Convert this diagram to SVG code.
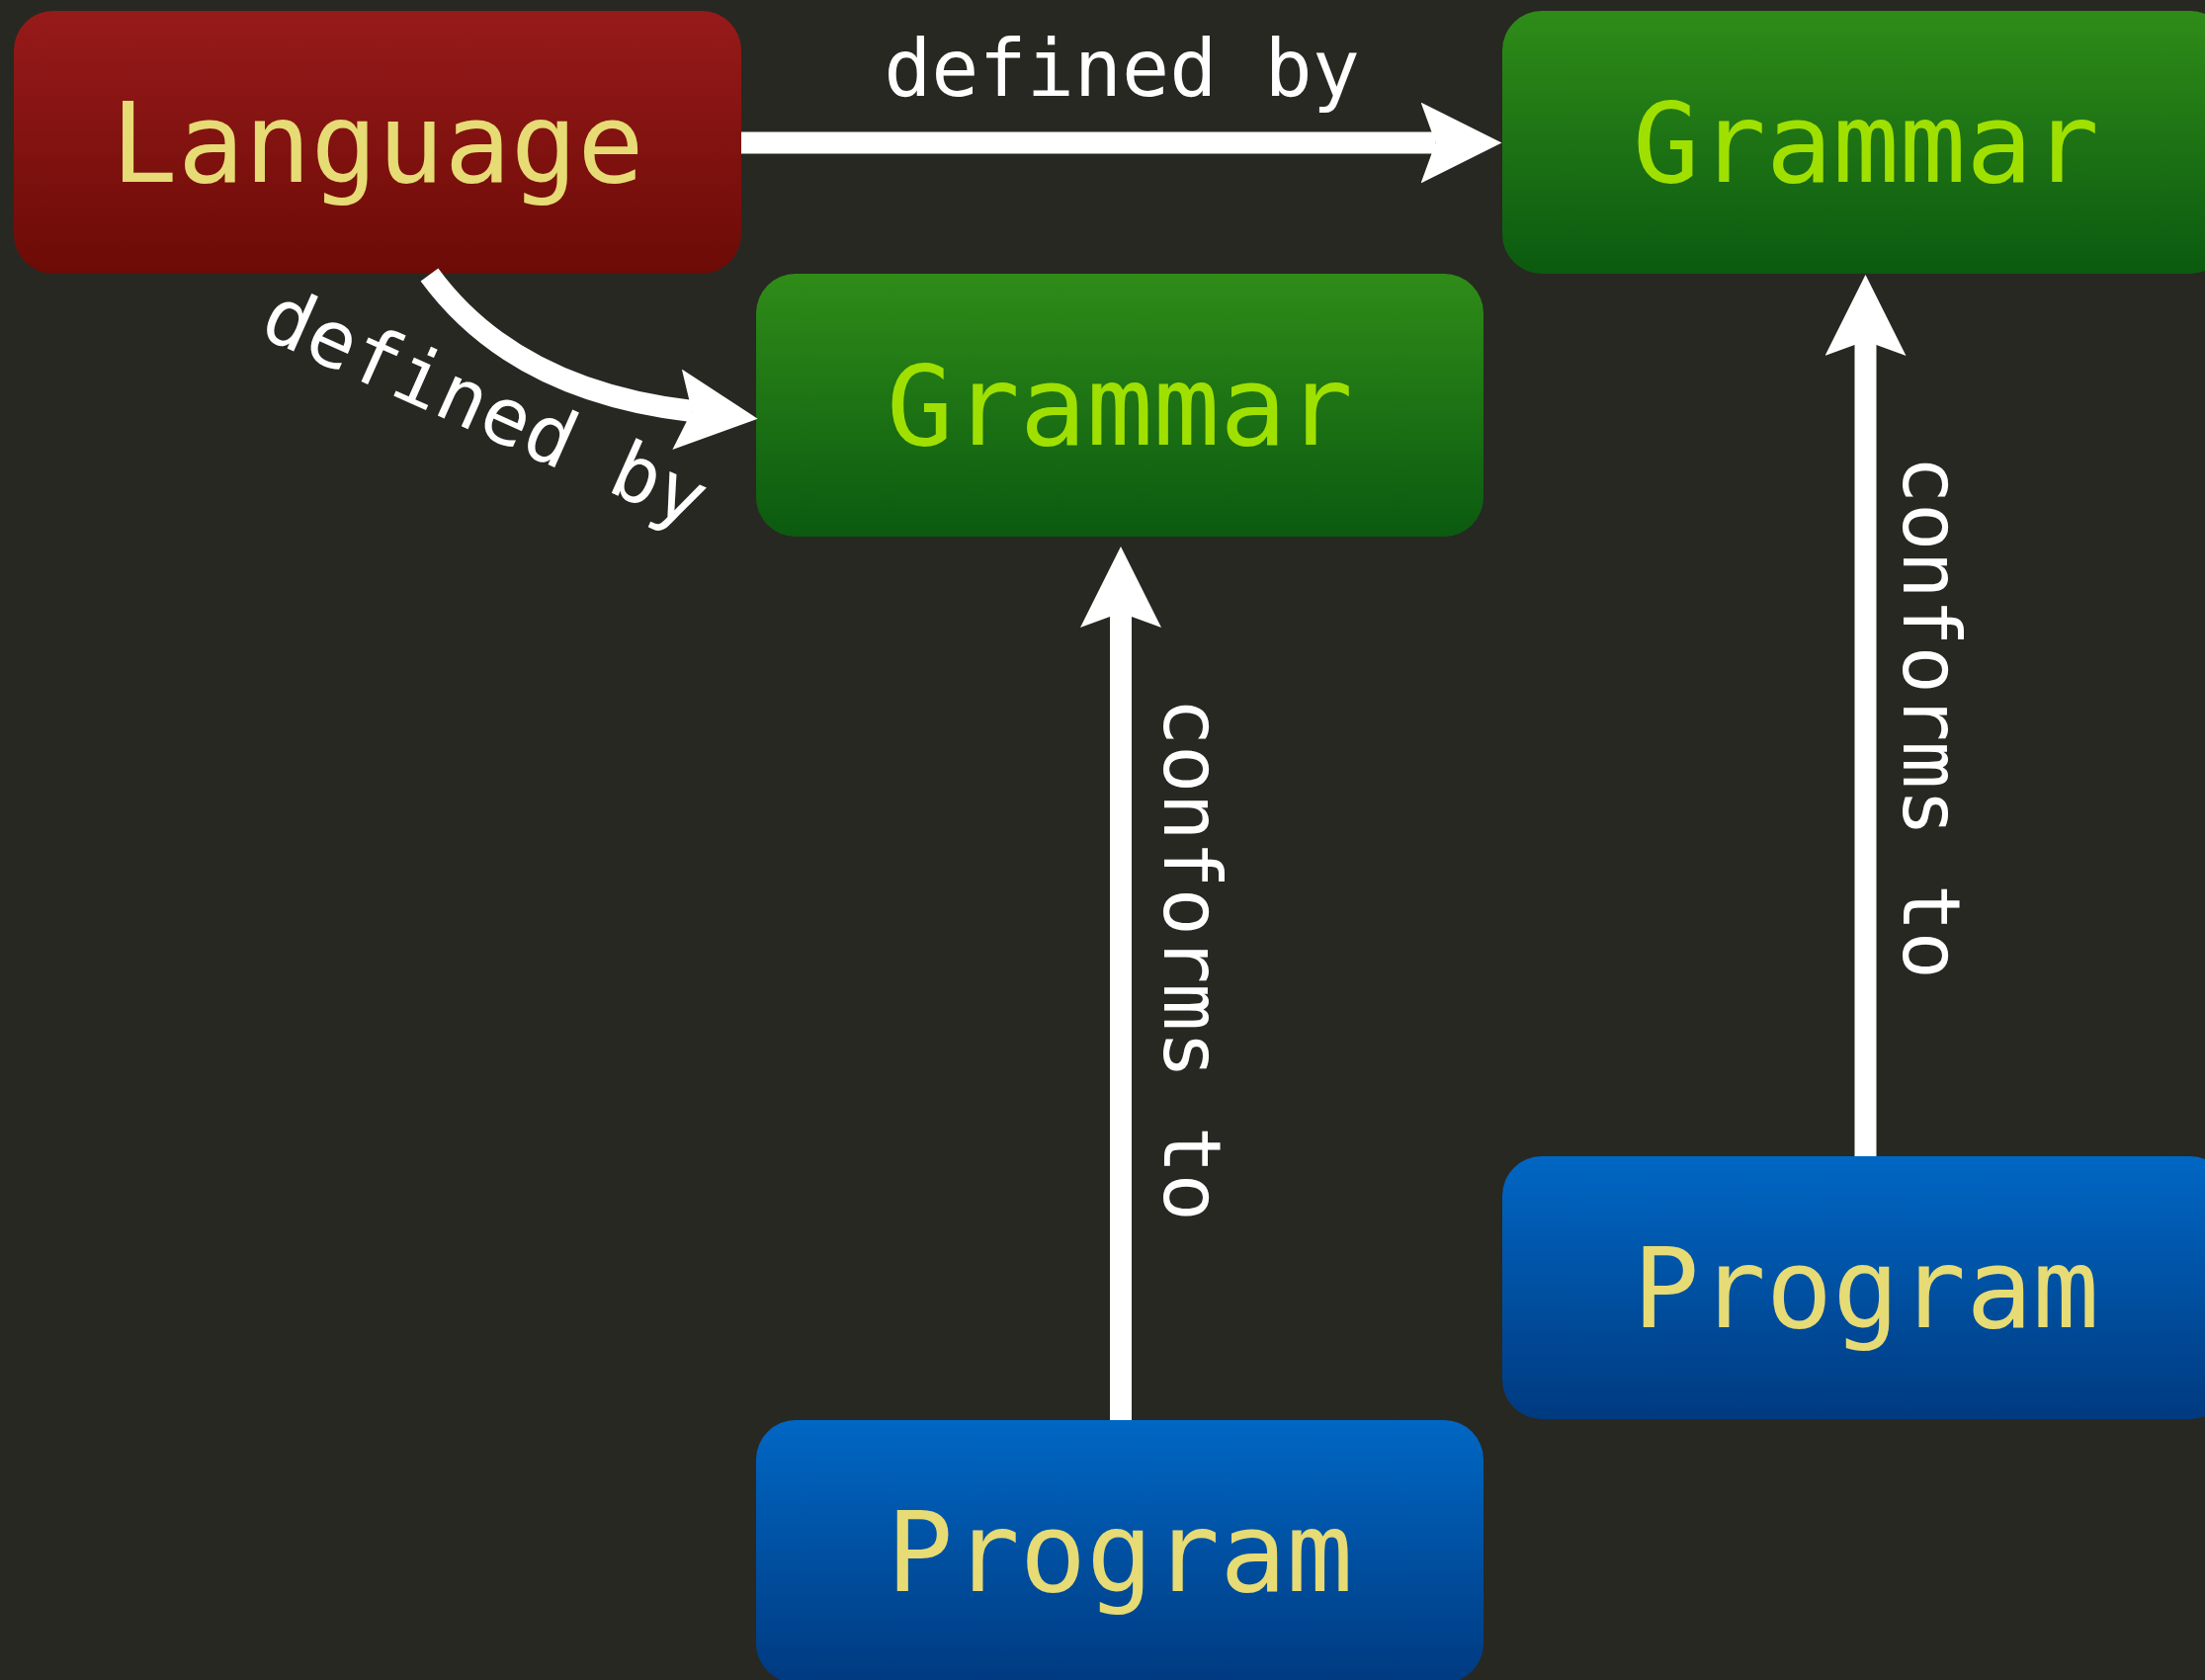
<svg xmlns="http://www.w3.org/2000/svg" width="2231" height="1700" viewBox="0 0 2231 1700">
  <defs>
    <linearGradient id="gradLanguage" x1="0" y1="0" x2="0" y2="1">
      <stop offset="0" stop-color="#971a1a"/>
      <stop offset="1" stop-color="#6c0b06"/>
    </linearGradient>
    <linearGradient id="gradGrammar" x1="0" y1="0" x2="0" y2="1">
      <stop offset="0" stop-color="#2f8c18"/>
      <stop offset="1" stop-color="#0b5a10"/>
    </linearGradient>
    <linearGradient id="gradProgram" x1="0" y1="0" x2="0" y2="1">
      <stop offset="0" stop-color="#0067c4"/>
      <stop offset="1" stop-color="#003a80"/>
    </linearGradient>
    <marker id="arrow" markerUnits="userSpaceOnUse" viewBox="0 0 82 82" refX="15" refY="41" markerWidth="82" markerHeight="82" orient="auto">
      <path d="M82,41 L0,0 L15,41 L0,82 Z" fill="#ffffff"/>
    </marker>
    <style>
      .box { stroke: none; }
      .node-text { font-family: "DejaVu Sans Mono", "Liberation Mono", monospace; font-size: 112px; text-anchor: middle; }
      .yellow { fill: #e6db74; }
      .green { fill: #a0e000; }
      .edge { fill: none; stroke: #ffffff; stroke-width: 22; marker-end: url(#arrow); }
      .edge-label { font-family: "DejaVu Sans Mono", "Liberation Mono", monospace; font-size: 80px; fill: #ffffff; text-anchor: middle; }
    </style>
  </defs>

  <rect x="0" y="0" width="2231" height="1700" fill="#272822"/>

  <g id="node-language">
    <rect class="box" x="14" y="11" width="736" height="266" rx="40" ry="40" fill="url(#gradLanguage)"/>
    <text class="node-text yellow" x="382" y="184">Language</text>
  </g>

  <g id="node-grammar-top">
    <rect class="box" x="1520" y="11" width="736" height="266" rx="40" ry="40" fill="url(#gradGrammar)"/>
    <text class="node-text green" x="1888" y="184">Grammar</text>
  </g>

  <g id="node-grammar-middle">
    <rect class="box" x="765" y="277" width="736" height="266" rx="40" ry="40" fill="url(#gradGrammar)"/>
    <text class="node-text green" x="1133" y="450">Grammar</text>
  </g>

  <g id="node-program-right">
    <rect class="box" x="1520" y="1170" width="736" height="266" rx="40" ry="40" fill="url(#gradProgram)"/>
    <text class="node-text yellow" x="1888" y="1343">Program</text>
  </g>

  <g id="node-program-bottom">
    <rect class="box" x="765" y="1437" width="736" height="266" rx="40" ry="40" fill="url(#gradProgram)"/>
    <text class="node-text yellow" x="1133" y="1610">Program</text>
  </g>

  <g id="connectors">
    <!-- Language -> Grammar (top right) -->
    <path class="edge" d="M750,144.5 L1452.5,144.5"/>
    <text class="edge-label" x="1135" y="97">defined by</text>

    <!-- Language -> Grammar (middle), curved -->
    <path class="edge" d="M434.5,278 Q520,395 700,416"/>
    <text class="edge-label" transform="translate(480,437) rotate(24)">defined by</text>

    <!-- Program (bottom) -> Grammar (middle) -->
    <path class="edge" d="M1134,1437 L1134,620"/>
    <text class="edge-label" transform="translate(1178,971) rotate(90)">conforms to</text>

    <!-- Program (right) -> Grammar (top right) -->
    <path class="edge" d="M1887.5,1170 L1887.5,345"/>
    <text class="edge-label" transform="translate(1926,726) rotate(90)">conforms to</text>
  </g>
</svg>
